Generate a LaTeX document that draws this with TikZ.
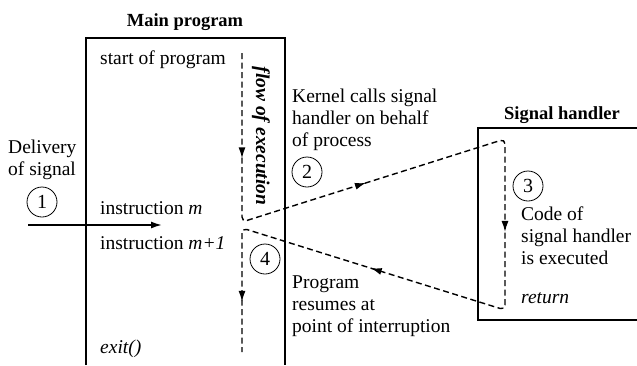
\documentclass[tikz,border=0pt]{standalone}
\usepackage{fontspec}
\setmainfont{Liberation Serif}
\usetikzlibrary{arrows.meta}
\usetikzlibrary{decorations.markings}

\tikzset{
    txt/.style={anchor=base west, inner sep=0pt, align=left, font=\fontsize{19.5}{22}\selectfont},
    title/.style={anchor=base, inner sep=0pt, font=\fontsize{18.5}{22}\selectfont\bfseries},
    num/.style={circle, draw, line width=0.8pt, minimum size=30pt, inner sep=0pt, font=\fontsize{20}{22}\selectfont},
    boxline/.style={line width=1.6pt},
    flow/.style={line width=1.4pt, dash pattern=on 6pt off 3.5pt, rounded corners=5pt},
    tip/.style={-{Latex[length=11pt,width=7pt]}},
}

\begin{document}
\begin{tikzpicture}[x=1pt, y=-1pt]
    \useasboundingbox (0,0) rectangle (637,365);

    % the two boxes (open at bottom / right)
    \draw[boxline] (86,365) -- (86,38) -- (285,38) -- (285,365);
    \draw[boxline] (640,128) -- (478,128) -- (478,320) -- (640,320);
    \node[title] (mainT) at (185,26) {Main program};
    \node[title] (handT) at (562,119) {Signal handler};

    % main program texts
    \node[txt] (start) at (100,64) {start of program};
    \node[txt] (instm) at (100,214) {instruction \textit{m}};
    \node[txt] (instn) at (100,249) {instruction \textit{m+1}};
    \node[txt] (exit) at (100,353) {\textit{exit()}};
    \node[anchor=base, inner sep=0pt, rotate=-90, font=\fontsize{19.5}{22}\selectfont\bfseries\itshape]
        (flowT) at (256,136) {flow of execution};

    % side texts (base = last line)
    \node[txt] (deliv) at (8,175) {Delivery\\of signal};
    \node[txt] (kern) at (292,146) {Kernel calls signal\\handler on behalf\\of process};
    \node[txt] (resume) at (292,332) {Program\\resumes at\\point of interruption};
    \node[txt] (code) at (521,264) {Code of\\signal handler\\is executed};
    \node[txt] (ret) at (521,303) {\textit{return}};

    % step numbers
    \foreach \i/\x/\y in {1/42/202, 2/307/172, 3/528/186, 4/265/259}
    {
        \node[num] (n\i) at (\x,\y) {\i};
    }

    % signal delivery
    \coordinate (sigA) at (28,225);
    \coordinate (sigB) at (162,225);
    \draw[boxline, tip] (sigA) -- (sigB);

    % flow of control
    \coordinate (top) at (242,53);
    \coordinate (cutA) at (242,222);
    \coordinate (htop) at (505,139);
    \coordinate (hbot) at (505,310);
    \coordinate (cutB) at (242,228);
    \coordinate (bot) at (242,352);
    \draw[flow, postaction={decorate}, decoration={markings,
            mark=at position 0.105 with {\arrow{Latex[length=11pt,width=7pt]}},
            mark=at position 0.295 with {\arrow{Latex[length=11pt,width=7pt]}},
            mark=at position 0.530 with {\arrow{Latex[length=11pt,width=7pt]}},
            mark=at position 0.745 with {\arrow{Latex[length=11pt,width=7pt]}},
            mark=at position 0.950 with {\arrow{Latex[length=11pt,width=7pt]}}}]
        (top) -- (cutA) -- (htop) -- (hbot) -- (cutB) -- (bot);
\end{tikzpicture}
\end{document}
